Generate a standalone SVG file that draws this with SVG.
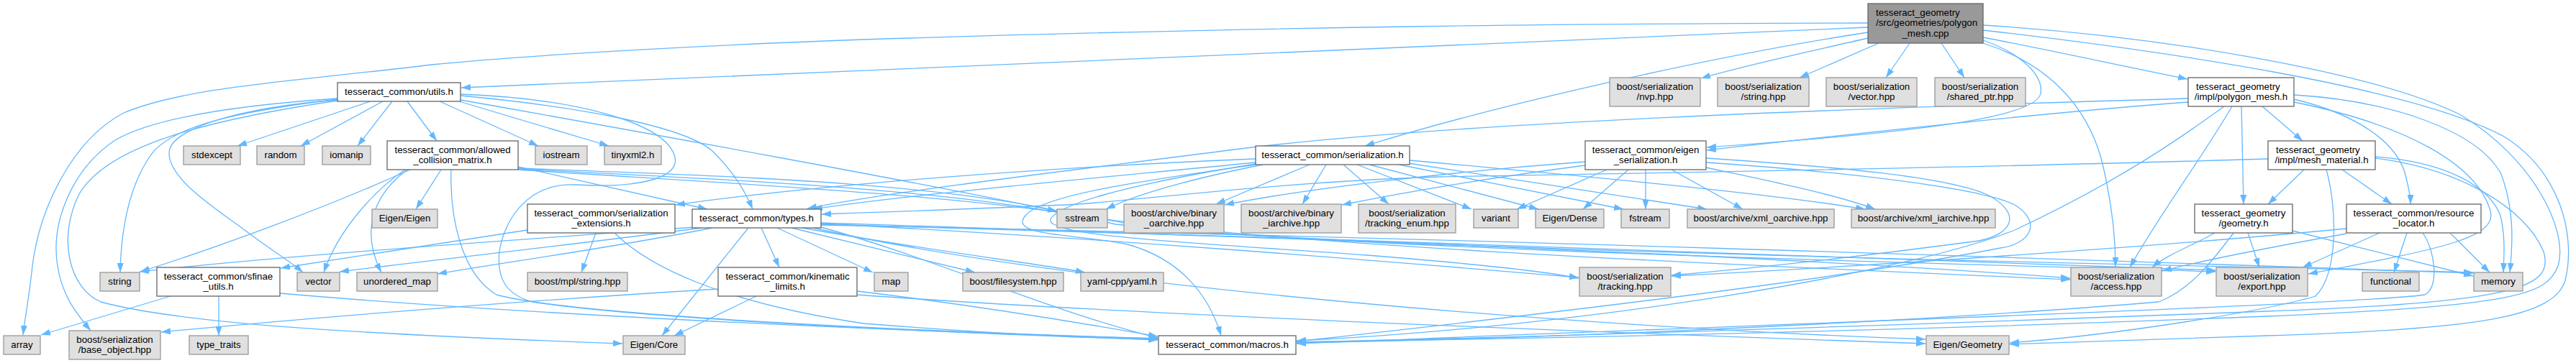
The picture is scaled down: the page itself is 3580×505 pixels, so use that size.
<svg xmlns="http://www.w3.org/2000/svg" width="3580" height="505" viewBox="0 0 3580 505">
<style>
.e{fill:none;stroke:#63b8ff;stroke-width:1.3;marker-end:url(#a)}
.n rect{fill:#ffffff;stroke:#666666;stroke-width:1.3}
.x rect{fill:#e0e0e0;stroke:#999999;stroke-width:1.3}
.r rect{fill:#999999;stroke:#666666;stroke-width:1.3}
text{font-family:"Liberation Sans",Arial,Helvetica,sans-serif;font-size:13.3px;fill:#000000;text-anchor:middle}
text.l{text-anchor:start}
</style>
<defs>
<marker id="a" viewBox="0 0 13 9" refX="13" refY="4.5" markerWidth="13" markerHeight="9" markerUnits="userSpaceOnUse" orient="auto">
<path d="M0,0 L13,4.5 L0,9 z" fill="#63b8ff"/>
</marker>
</defs>
<rect width="3580" height="505" fill="#ffffff"/>
<g id="edges">
<path class="e" d="M2596,38 C2000,64 1300,94 641,122"/>
<path class="e" d="M2596,32 C2200,33 1800,36 1200,55 C900,66 700,80 600,90 C420,112 260,120 172,157 C100,195 55,290 45,370 C41,410 35,440 32,466"/>
<path class="e" d="M2596,45 C2400,75 2100,140 1897,203"/>
<path class="e" d="M2596,53 C2500,75 2420,92 2364,109"/>
<path class="e" d="M2611,60 L2501,108"/>
<path class="e" d="M2654,60 L2621,108"/>
<path class="e" d="M2698,60 L2730,108"/>
<path class="e" d="M2756,52 C2850,70 2950,92 3040,110"/>
<path class="e" d="M2756,60 C2850,90 2900,150 2920,220 C2935,280 2940,330 2940,371"/>
<path class="e" d="M2756,56 C2810,75 2840,105 2836,130 C2830,165 2650,185 2372,205"/>
<path class="e" d="M2756,35 C3000,50 3300,100 3420,160 C3520,220 3570,320 3555,370 C3540,410 3500,425 3150,440 C2700,458 2200,470 1802,476"/>
<path class="e" d="M2756,42 C3000,70 3350,120 3480,190 C3560,240 3580,330 3565,390 C3550,440 3450,458 3150,467 C2950,473 2850,477 2793,479"/>
<path class="e" d="M515,141 L330,203"/>
<path class="e" d="M532,141 L418,203"/>
<path class="e" d="M545,141 L497,203"/>
<path class="e" d="M566,141 L607,196"/>
<path class="e" d="M611,141 L748,203"/>
<path class="e" d="M638,141 L846,203"/>
<path class="e" d="M640,133 C800,148 950,175 990,210 C1020,240 1035,265 1046,291"/>
<path class="e" d="M640,139 C900,185 1300,258 1469,294"/>
<path class="e" d="M640,131 C800,137 920,170 937,215 C950,250 880,262 800,257 C730,254 700,310 694,350 C690,390 705,410 740,420 C900,445 1300,462 1609,473"/>
<path class="e" d="M469,137 C350,145 220,160 160,195 C100,235 70,310 80,370 C86,410 105,435 126,460"/>
<path class="e" d="M469,138 C330,155 240,175 210,215 C175,265 168,330 167,379"/>
<path class="e" d="M469,139 C330,150 235,180 235,213 C235,250 300,290 344,323 C380,350 405,365 421,379"/>
<path class="e" d="M469,140 C300,165 150,200 110,270 C80,330 95,400 140,420 C250,450 500,465 865,478"/>
<path class="e" d="M613,236 L578,291"/>
<path class="e" d="M570,236 C450,290 300,345 195,378"/>
<path class="e" d="M563,236 C520,265 470,320 450,379"/>
<path class="e" d="M566,236 C520,270 500,320 530,379"/>
<path class="e" d="M627,236 C625,300 640,380 690,410 C800,440 1300,462 1609,471"/>
<path class="e" d="M720,232 L983,291"/>
<path class="e" d="M720,234 C1000,245 1300,252 1500,300 C1800,345 2500,372 2877,389"/>
<path class="e" d="M720,235 C1000,250 1350,262 1550,312 C1900,348 2700,366 3079,378"/>
<path class="e" d="M720,236 C1000,255 1400,272 1600,318 C2000,350 3000,368 3437,379"/>
<path class="e" d="M828,324 L808,379"/>
<path class="e" d="M733,320 C600,340 480,358 390,373"/>
<path class="e" d="M854,324 C900,370 1000,420 1200,450 C1400,466 1550,471 1609,472"/>
<path class="e" d="M1040,317 L920,467"/>
<path class="e" d="M1058,317 L1083,372"/>
<path class="e" d="M1080,317 L1213,379"/>
<path class="e" d="M1100,317 L1355,379"/>
<path class="e" d="M1115,317 C1300,350 1450,368 1508,379"/>
<path class="e" d="M990,317 C850,345 700,365 608,381"/>
<path class="e" d="M975,317 C800,340 600,362 472,378"/>
<path class="e" d="M965,316 C700,335 400,355 194,378"/>
<path class="e" d="M1141,316 C1300,360 1450,430 1609,470"/>
<path class="e" d="M1141,310 C1600,325 2400,350 2877,387"/>
<path class="e" d="M1141,312 C1800,330 2700,360 3079,376"/>
<path class="e" d="M1141,313 C2000,330 3000,365 3437,380"/>
<path class="e" d="M1141,311 C1600,335 2000,370 2194,386"/>
<path class="e" d="M1130,317 C1500,400 2200,455 2676,472"/>
<path class="e" d="M1051,412 L937,467"/>
<path class="e" d="M1191,405 C1400,430 1550,458 1609,468"/>
<path class="e" d="M998,402 C700,420 400,445 224,462"/>
<path class="e" d="M1191,410 C1600,440 2300,465 2676,478"/>
<path class="e" d="M237,412 L57,466"/>
<path class="e" d="M304,412 L304,467"/>
<path class="e" d="M389,408 C700,435 1200,460 1609,471"/>
<path class="e" d="M1745,221 C1400,235 1100,262 939,285"/>
<path class="e" d="M1745,226 C1500,250 1250,272 1130,291"/>
<path class="e" d="M1755,229 C1650,250 1580,270 1537,291"/>
<path class="e" d="M1820,229 L1690,284"/>
<path class="e" d="M1843,229 L1810,284"/>
<path class="e" d="M1867,229 L1930,284"/>
<path class="e" d="M1886,229 L2045,291"/>
<path class="e" d="M1903,229 L2138,291"/>
<path class="e" d="M1944,229 L2256,291"/>
<path class="e" d="M1957,227 L2372,291"/>
<path class="e" d="M1959,223 C2200,245 2450,268 2592,291"/>
<path class="e" d="M1745,229 C1600,250 1450,270 1425,300 C1400,330 1500,325 1567,340 C1640,360 1680,410 1697,467"/>
<path class="e" d="M1745,228 C1560,258 1470,285 1460,305 C1450,330 1700,340 1900,355 C2050,367 2150,378 2194,387"/>
<path class="e" d="M2233,236 L2108,291"/>
<path class="e" d="M2263,236 L2200,291"/>
<path class="e" d="M2287,236 L2287,291"/>
<path class="e" d="M2323,236 L2422,291"/>
<path class="e" d="M2371,233 C2450,250 2550,270 2606,291"/>
<path class="e" d="M2203,225 C2000,240 1800,265 1702,285"/>
<path class="e" d="M2203,230 C2050,250 1950,268 1865,285"/>
<path class="e" d="M2371,220 C2550,232 2700,245 2760,270 C2810,295 2800,325 2750,335 C2600,355 2450,372 2323,383"/>
<path class="e" d="M2371,226 C2550,238 2750,260 2800,285 C2840,310 2820,340 2780,345 C2600,380 2300,420 1802,475"/>
<path class="e" d="M3144,148 L3200,196"/>
<path class="e" d="M3115,148 L3118,284"/>
<path class="e" d="M3188,138 C3280,160 3330,200 3342,240 C3348,262 3350,272 3350,284"/>
<path class="e" d="M3188,132 C3320,140 3440,180 3475,240 C3495,290 3492,340 3488,379"/>
<path class="e" d="M3188,142 C3350,175 3440,230 3460,290 C3475,330 3400,345 3208,381"/>
<path class="e" d="M3102,148 C3060,220 3000,300 2960,372"/>
<path class="e" d="M3091,148 C3040,185 2950,250 2800,320 C2650,380 2200,455 1802,474"/>
<path class="e" d="M3041,137 C2600,150 2000,170 1700,210 C1450,242 1250,265 1122,290"/>
<path class="e" d="M3041,142 C2800,160 2500,195 2372,209"/>
<path class="e" d="M3202,236 L3152,284"/>
<path class="e" d="M3255,236 L3324,284"/>
<path class="e" d="M3301,218 C3400,225 3460,260 3475,300 C3482,330 3480,355 3479,379"/>
<path class="e" d="M3301,220 C3420,235 3510,290 3535,350 C3550,400 3500,420 3150,433 C2700,450 2200,468 1802,476"/>
<path class="e" d="M3233,236 C3248,290 3250,380 3218,412 C3150,432 2950,465 2793,477"/>
<path class="e" d="M3152,221 C2700,235 2200,242 2000,246 C1800,252 1600,276 1500,284 C1350,291 1200,296 1142,298"/>
<path class="e" d="M3124,324 L3140,372"/>
<path class="e" d="M3186,321 L3437,384"/>
<path class="e" d="M3078,324 C3050,340 3010,355 2991,372"/>
<path class="e" d="M3104,324 C3070,370 3040,405 3000,420 C2700,445 2200,470 1802,477"/>
<path class="e" d="M3345,324 L3327,379"/>
<path class="e" d="M3405,324 L3460,379"/>
<path class="e" d="M3307,324 L3200,372"/>
<path class="e" d="M3367,324 C3385,350 3390,400 3370,410 C3300,422 2500,450 1802,478"/>
<path class="e" d="M3261,325 C3150,345 3050,365 3005,377"/>
<path class="e" d="M3261,318 C3000,343 2600,370 2323,384"/>
</g>
<g id="root" class="r"><rect x="2596" y="5" width="160" height="55"/><text class="l" x="2607" y="21.6">tesseract_geometry</text><text class="l" x="2607" y="36.3">/src/geometries/polygon</text><text x="2676" y="51">_mesh.cpp</text></g>
<g id="utils" class="n"><rect x="469" y="115" width="171" height="26"/><text x="554.5" y="131.5">tesseract_common/utils.h</text></g>
<g id="nvp" class="x"><rect x="2237" y="108" width="126" height="40"/><text x="2300" y="124.6">boost/serialization</text><text x="2300" y="139.3">/nvp.hpp</text></g>
<g id="bstring" class="x"><rect x="2387" y="108" width="127" height="40"/><text x="2450.5" y="124.6">boost/serialization</text><text x="2450.5" y="139.3">/string.hpp</text></g>
<g id="bvector" class="x"><rect x="2538" y="108" width="126" height="40"/><text x="2601" y="124.6">boost/serialization</text><text x="2601" y="139.3">/vector.hpp</text></g>
<g id="shared_ptr" class="x"><rect x="2689" y="108" width="126" height="40"/><text x="2752" y="124.6">boost/serialization</text><text x="2752" y="139.3">/shared_ptr.hpp</text></g>
<g id="polygon_mesh_h" class="n"><rect x="3041" y="108" width="147" height="40"/><text class="l" x="3052" y="124.6">tesseract_geometry</text><text x="3114.5" y="139.3">/impl/polygon_mesh.h</text></g>
<g id="stdexcept" class="x"><rect x="255" y="203" width="79" height="26"/><text x="294.5" y="219.5">stdexcept</text></g>
<g id="random" class="x"><rect x="357" y="203" width="66" height="26"/><text x="390" y="219.5">random</text></g>
<g id="iomanip" class="x"><rect x="448" y="203" width="67" height="26"/><text x="481.5" y="219.5">iomanip</text></g>
<g id="acm" class="n"><rect x="538" y="196" width="182" height="40"/><text x="629" y="212.6">tesseract_common/allowed</text><text x="629" y="227.3">_collision_matrix.h</text></g>
<g id="iostream" class="x"><rect x="744" y="203" width="72" height="26"/><text x="780" y="219.5">iostream</text></g>
<g id="tinyxml2" class="x"><rect x="840" y="203" width="79" height="26"/><text x="879.5" y="219.5">tinyxml2.h</text></g>
<g id="serialization_h" class="n"><rect x="1745" y="203" width="214" height="26"/><text x="1852" y="219.5">tesseract_common/serialization.h</text></g>
<g id="eigen_serialization" class="n"><rect x="2203" y="196" width="168" height="40"/><text x="2287" y="212.6">tesseract_common/eigen</text><text x="2287" y="227.3">_serialization.h</text></g>
<g id="mesh_material" class="n"><rect x="3152" y="196" width="149" height="40"/><text class="l" x="3163" y="212.6">tesseract_geometry</text><text x="3226.5" y="227.3">/impl/mesh_material.h</text></g>
<g id="eigen_eigen" class="x"><rect x="517" y="291" width="91" height="26"/><text x="562.5" y="307.5">Eigen/Eigen</text></g>
<g id="serialization_extensions" class="n"><rect x="733" y="284" width="205" height="40"/><text x="835.5" y="300.6">tesseract_common/serialization</text><text x="835.5" y="315.3">_extensions.h</text></g>
<g id="types" class="n"><rect x="962" y="291" width="179" height="26"/><text x="1051.5" y="307.5">tesseract_common/types.h</text></g>
<g id="sstream" class="x"><rect x="1469" y="291" width="70" height="26"/><text x="1504" y="307.5">sstream</text></g>
<g id="binary_oarchive" class="x"><rect x="1562" y="284" width="139" height="40"/><text x="1631.5" y="300.6">boost/archive/binary</text><text x="1631.5" y="315.3">_oarchive.hpp</text></g>
<g id="binary_iarchive" class="x"><rect x="1725" y="284" width="139" height="40"/><text x="1794.5" y="300.6">boost/archive/binary</text><text x="1794.5" y="315.3">_iarchive.hpp</text></g>
<g id="tracking_enum" class="x"><rect x="1888" y="284" width="135" height="40"/><text x="1955.5" y="300.6">boost/serialization</text><text x="1955.5" y="315.3">/tracking_enum.hpp</text></g>
<g id="variant" class="x"><rect x="2048" y="291" width="62" height="26"/><text x="2079" y="307.5">variant</text></g>
<g id="eigen_dense" class="x"><rect x="2134" y="291" width="95" height="26"/><text x="2181.5" y="307.5">Eigen/Dense</text></g>
<g id="fstream" class="x"><rect x="2253" y="291" width="67" height="26"/><text x="2286.5" y="307.5">fstream</text></g>
<g id="xml_oarchive" class="x"><rect x="2345" y="291" width="204" height="26"/><text x="2447" y="307.5">boost/archive/xml_oarchive.hpp</text></g>
<g id="xml_iarchive" class="x"><rect x="2573" y="291" width="200" height="26"/><text x="2673" y="307.5">boost/archive/xml_iarchive.hpp</text></g>
<g id="geometry_h" class="n"><rect x="3050" y="284" width="136" height="40"/><text x="3118" y="300.6">tesseract_geometry</text><text x="3118" y="315.3">/geometry.h</text></g>
<g id="resource_locator" class="n"><rect x="3261" y="284" width="187" height="40"/><text x="3354.5" y="300.6">tesseract_common/resource</text><text x="3354.5" y="315.3">_locator.h</text></g>
<g id="string" class="x"><rect x="139" y="379" width="55" height="26"/><text x="166.5" y="395.5">string</text></g>
<g id="sfinae_utils" class="n"><rect x="218" y="372" width="171" height="40"/><text x="303.5" y="388.6">tesseract_common/sfinae</text><text x="303.5" y="403.3">_utils.h</text></g>
<g id="vector" class="x"><rect x="413" y="379" width="59" height="26"/><text x="442.5" y="395.5">vector</text></g>
<g id="unordered_map" class="x"><rect x="496" y="379" width="112" height="26"/><text x="552" y="395.5">unordered_map</text></g>
<g id="mpl_string" class="x"><rect x="733" y="379" width="139" height="26"/><text x="802.5" y="395.5">boost/mpl/string.hpp</text></g>
<g id="kinematic_limits" class="n"><rect x="998" y="372" width="193" height="40"/><text x="1094.5" y="388.6">tesseract_common/kinematic</text><text x="1094.5" y="403.3">_limits.h</text></g>
<g id="map" class="x"><rect x="1215" y="379" width="47" height="26"/><text x="1238.5" y="395.5">map</text></g>
<g id="filesystem" class="x"><rect x="1338" y="379" width="140" height="26"/><text x="1408" y="395.5">boost/filesystem.hpp</text></g>
<g id="yaml" class="x"><rect x="1502" y="379" width="115" height="26"/><text x="1559.5" y="395.5">yaml-cpp/yaml.h</text></g>
<g id="tracking" class="x"><rect x="2195" y="372" width="127" height="40"/><text x="2258.5" y="388.6">boost/serialization</text><text x="2258.5" y="403.3">/tracking.hpp</text></g>
<g id="access" class="x"><rect x="2878" y="372" width="126" height="40"/><text x="2941" y="388.6">boost/serialization</text><text x="2941" y="403.3">/access.hpp</text></g>
<g id="export" class="x"><rect x="3080" y="372" width="127" height="40"/><text x="3143.5" y="388.6">boost/serialization</text><text x="3143.5" y="403.3">/export.hpp</text></g>
<g id="functional" class="x"><rect x="3283" y="379" width="79" height="26"/><text x="3322.5" y="395.5">functional</text></g>
<g id="memory" class="x"><rect x="3438" y="379" width="68" height="26"/><text x="3472" y="395.5">memory</text></g>
<g id="array" class="x"><rect x="5" y="467" width="51" height="26"/><text x="30.5" y="483.5">array</text></g>
<g id="base_object" class="x"><rect x="96" y="460" width="127" height="40"/><text x="159.5" y="476.6">boost/serialization</text><text x="159.5" y="491.3">/base_object.hpp</text></g>
<g id="type_traits" class="x"><rect x="263" y="467" width="82" height="26"/><text x="304" y="483.5">type_traits</text></g>
<g id="eigen_core" class="x"><rect x="866" y="467" width="86" height="26"/><text x="909" y="483.5">Eigen/Core</text></g>
<g id="macros" class="n"><rect x="1610" y="467" width="191" height="26"/><text x="1705.5" y="483.5">tesseract_common/macros.h</text></g>
<g id="eigen_geometry" class="x"><rect x="2677" y="467" width="115" height="26"/><text x="2734.5" y="483.5">Eigen/Geometry</text></g>
</svg>
